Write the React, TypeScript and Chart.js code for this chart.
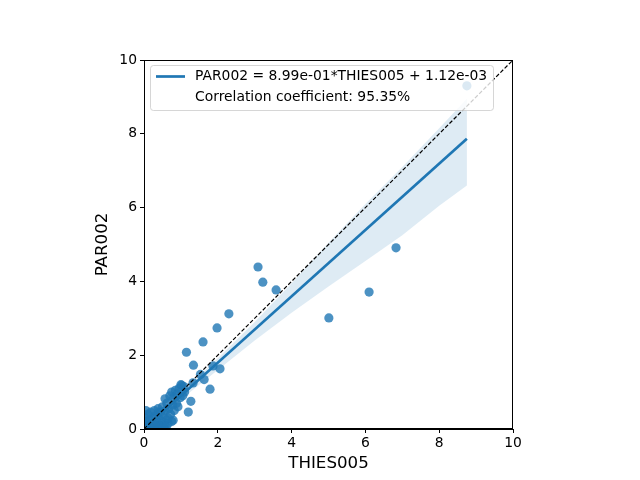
import React, { useEffect, useRef } from "react";
import { Chart, registerables } from "chart.js";

Chart.register(...registerables);

const pointsX = [
  8.75, 6.83, 6.1, 5.01, 3.58, 3.22, 3.09, 2.3, 1.98, 1.6, 1.15, 2.06, 1.87, 1.79, 1.63, 1.53, 1.34, 1.27, 1.2, 1.33, 1.02,
  0.02, 0.03, 0.05, 0.07, 0.08, 0.1, 0.12, 0.15, 0.18, 0.2, 0.22, 0.25, 0.28, 0.3, 0.32, 0.35, 0.38, 0.4, 0.42, 0.45,
  0.48, 0.5, 0.52, 0.55, 0.57, 0.58, 0.6, 0.62, 0.65, 0.67, 0.7, 0.72, 0.75, 0.75, 0.78, 0.79, 0.8, 0.82, 0.85, 0.88,
  0.9, 0.92, 0.95, 0.98, 1.0, 1.05, 1.08, 1.1, 0.55, 0.45, 0.65, 0.3, 0.15, 0.4, 0.6,
];
const pointsY = [
  9.3, 4.91, 3.71, 3.01, 3.77, 3.98, 4.39, 3.12, 2.74, 2.36, 2.08, 1.63, 1.71, 1.08, 1.34, 1.48, 1.73, 0.75, 0.46, 1.25, 1.18,
  0.05, 0.3, 0.5, 0.2, 0.02, 0.4, 0.1, 0.25, 0.45, 0.05, 0.3, 0.15, 0.5, 0.35, 0.05, 0.2, 0.55, 0.3, 0.1, 0.45,
  0.2, 0.6, 0.35, 0.1, 0.82, 0.5, 0.25, 0.7, 0.15, 0.55, 0.9, 0.4, 1.0, 0.2, 0.65, 0.24, 0.85, 0.5, 1.05, 0.7,
  0.95, 0.6, 1.1, 0.85, 1.2, 0.9, 1.15, 1.0, 0.02, 0.05, 0.3, 0.1, 0.05, 0.45, 0.05,
];

const bandX = [0, 1, 2, 3, 4, 5, 6, 7, 8, 8.75];
const bandUpper = [0.08, 0.98, 1.92, 2.9, 3.95, 5.05, 6.1, 7.1, 8.15, 8.95];
const bandLower = [-0.06, 0.8, 1.6, 2.4, 3.15, 3.86, 4.55, 5.25, 6.05, 6.6];

const fitSlope = 0.899;
const fitIntercept = 0.00112;
const fitX = [0, 8.75];

const identityX = [0, 10];

const tickValues = [0, 2, 4, 6, 8, 10];

const xTitle = "THIES005";
const yTitle = "PAR002";
const legendLine1 = "PAR002 = 8.99e-01*THIES005 + 1.12e-03";
const legendLine2 = "Correlation coefficient: 95.35%";

const BLUE = "#1f77b4";
const FONT = "'DejaVu Sans', sans-serif";

export default function App() {
  const ref = useRef<HTMLCanvasElement | null>(null);

  useEffect(() => {
    if (!ref.current) return;
    const pts = pointsX.map((x, i) => ({ x, y: pointsY[i] }));
    const up = bandX.map((x, i) => ({ x, y: bandUpper[i] }));
    const lo = bandX.map((x, i) => ({ x, y: bandLower[i] }));
    const fit = fitX.map((x) => ({ x, y: fitSlope * x + fitIntercept }));
    const ident = identityX.map((x) => ({ x, y: x }));

    const frame = {
      id: "frame",
      afterDatasetsDraw(chart: any) {
        const { ctx, chartArea } = chart;
        ctx.save();
        ctx.strokeStyle = "#000";
        ctx.lineWidth = 1;
        ctx.strokeRect(chartArea.left + 0.5, chartArea.top + 0.5, chartArea.right - chartArea.left - 1, chartArea.bottom - chartArea.top - 1);
        ctx.restore();
      },
      afterDraw(chart: any) {
        const { ctx } = chart;
        ctx.save();
        const x0 = 150.5, y0 = 65.5, w = 343, h = 45, r = 3;
        ctx.beginPath();
        ctx.moveTo(x0 + r, y0);
        ctx.lineTo(x0 + w - r, y0);
        ctx.arcTo(x0 + w, y0, x0 + w, y0 + r, r);
        ctx.lineTo(x0 + w, y0 + h - r);
        ctx.arcTo(x0 + w, y0 + h, x0 + w - r, y0 + h, r);
        ctx.lineTo(x0 + r, y0 + h);
        ctx.arcTo(x0, y0 + h, x0, y0 + h - r, r);
        ctx.lineTo(x0, y0 + r);
        ctx.arcTo(x0, y0, x0 + r, y0, r);
        ctx.closePath();
        ctx.fillStyle = "rgba(255,255,255,0.8)";
        ctx.fill();
        ctx.strokeStyle = "rgba(204,204,204,0.8)";
        ctx.lineWidth = 1;
        ctx.stroke();
        ctx.strokeStyle = BLUE;
        ctx.lineWidth = 2.7;
        ctx.beginPath();
        ctx.moveTo(156, 76.5);
        ctx.lineTo(185, 76.5);
        ctx.stroke();
        ctx.fillStyle = "#000";
        ctx.font = "13.89px " + FONT;
        ctx.textBaseline = "middle";
        ctx.textAlign = "left";
        ctx.fillText(legendLine1, 195, 76.5);
        ctx.fillText(legendLine2, 195, 97.5);
        ctx.restore();
      },
    };

    const chart = new Chart(ref.current, {
      type: "scatter",
      data: {
        datasets: [
          {
            data: ident,
            showLine: true,
            borderColor: "#000",
            borderWidth: 1.2,
            borderDash: [4, 2],
            pointRadius: 0,
            fill: false,
          },
          {
            data: fit,
            showLine: true,
            borderColor: BLUE,
            borderWidth: 2.7,
            pointRadius: 0,
            fill: false,
          },
          {
            data: up,
            showLine: true,
            borderWidth: 0,
            borderColor: "rgba(0,0,0,0)",
            backgroundColor: "rgba(31,119,180,0.15)",
            pointRadius: 0,
            fill: "+1",
          },
          {
            data: lo,
            showLine: true,
            borderWidth: 0,
            borderColor: "rgba(0,0,0,0)",
            pointRadius: 0,
            fill: false,
          },
          {
            data: pts,
            pointRadius: 4.6,
            pointBackgroundColor: "rgba(31,119,180,0.8)",
            pointBorderWidth: 0,
            pointBorderColor: "rgba(0,0,0,0)",
          },
        ],
      },
      options: {
        responsive: false,
        animation: false,
        devicePixelRatio: 1,
        layout: { padding: { left: 0, right: 127, top: 60, bottom: 0 } },
        plugins: {
          legend: { display: false },
          tooltip: { enabled: false },
        },
        scales: {
          x: {
            type: "linear",
            min: 0,
            max: 10,
            afterFit(scale: any) {
              scale.height = 51;
            },
            afterBuildTicks(scale: any) {
              scale.ticks = tickValues.map((v) => ({ value: v }));
            },
            ticks: {
              color: "#000",
              font: { family: FONT, size: 13.89 },
              padding: 2,
              maxRotation: 0,
            },
            grid: { drawOnChartArea: false, drawTicks: true, tickLength: 4, color: "#000" },
            border: { display: true, color: "#000", width: 1 },
            title: {
              display: true,
              text: xTitle,
              color: "#000",
              font: { family: FONT, size: 16.67 },
              padding: { top: 0, bottom: 6 },
            },
          },
          y: {
            type: "linear",
            min: 0,
            max: 10,
            afterFit(scale: any) {
              scale.width = 144;
            },
            afterBuildTicks(scale: any) {
              scale.ticks = tickValues.map((v) => ({ value: v }));
            },
            ticks: {
              color: "#000",
              font: { family: FONT, size: 13.89 },
              padding: 3,
            },
            grid: { drawOnChartArea: false, drawTicks: true, tickLength: 4, color: "#000" },
            border: { display: true, color: "#000", width: 1 },
            title: {
              display: true,
              text: yTitle,
              color: "#000",
              font: { family: FONT, size: 16.67 },
              padding: { top: 93, bottom: 0 },
            },
          },
        },
      },
      plugins: [frame],
    } as any);

    return () => chart.destroy();
  }, []);

  return (
    <div style={{ position: "absolute", left: 0, top: 0, width: 640, height: 480, background: "#fff" }}>
      <canvas ref={ref} width={640} height={480} style={{ width: 640, height: 480, display: "block" }} />
    </div>
  );
}
